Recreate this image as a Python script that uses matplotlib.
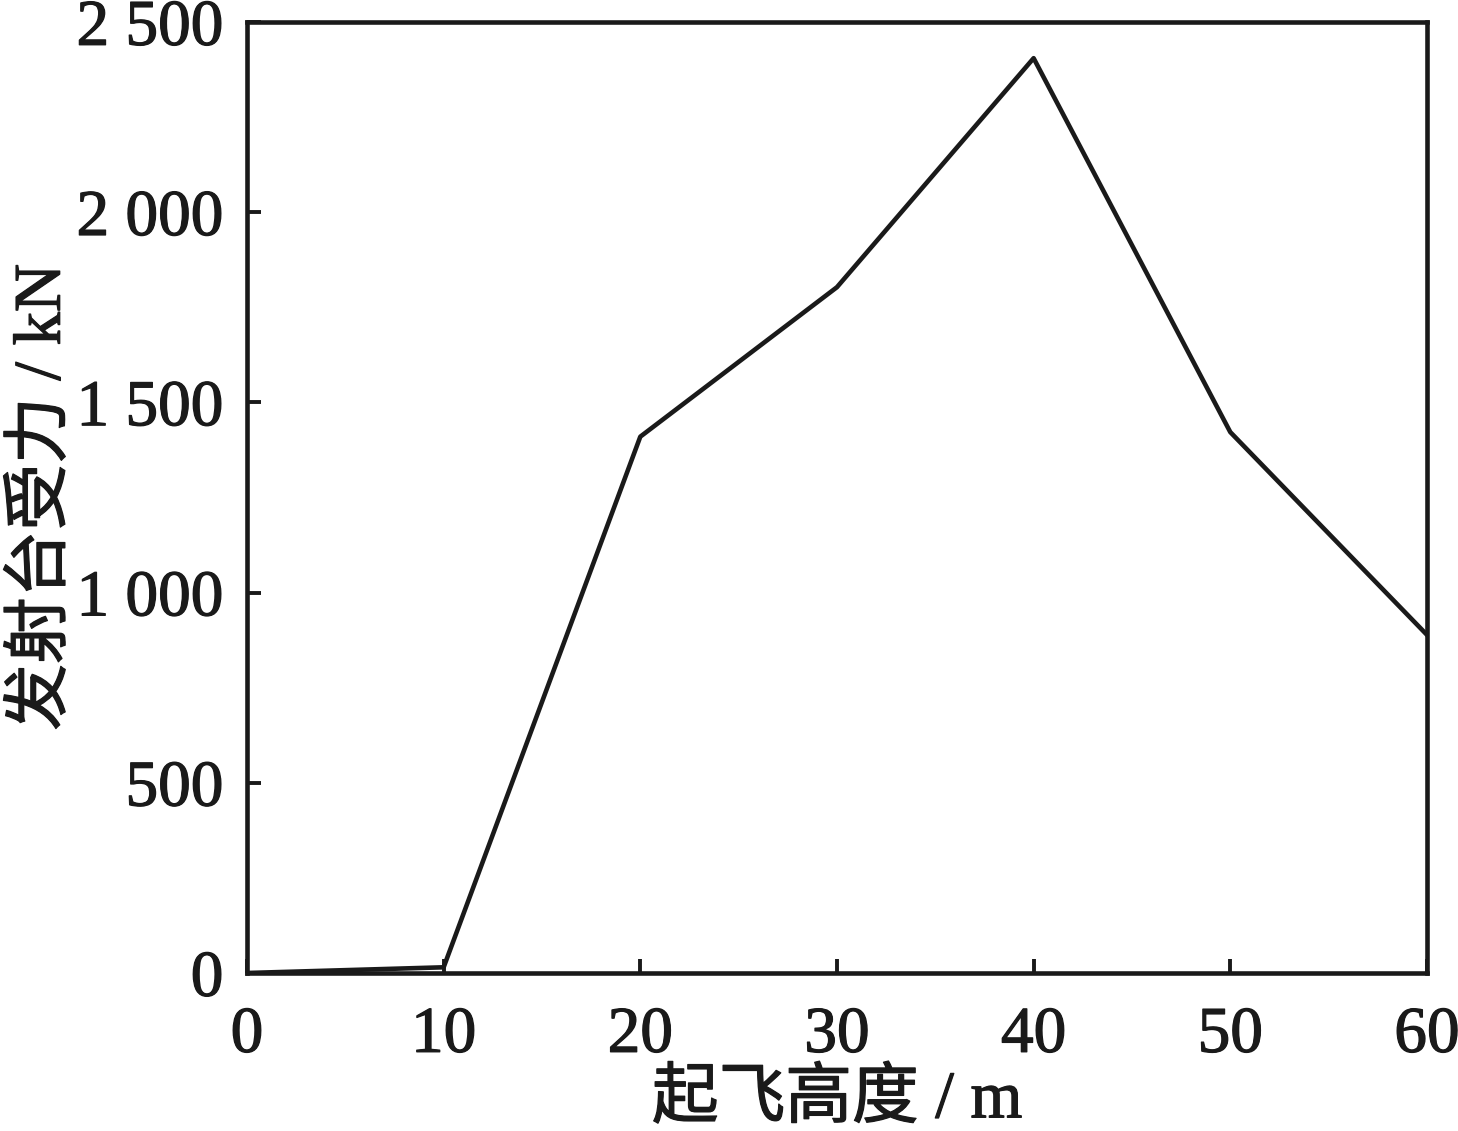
import numpy as np
import matplotlib.pyplot as plt
import matplotlib.patheffects as pe
from matplotlib.ticker import FuncFormatter

# 数据
height = [0, 10, 20, 30, 40, 50, 60]
force = [0, 15, 1410, 1803, 2405, 1422, 889]

plt.rcParams['font.family'] = ['Liberation Serif', 'Noto Sans CJK SC']
plt.rcParams['font.size'] = 47

fig = plt.figure(figsize=(14.58, 11.31), dpi=100)
ax = fig.add_axes([0.1694, 0.1397, 0.8093, 0.8408])

ax.plot(height, force, color='#1a1a1a', lw=3.3)

ax.set_xlim(0, 60)
ax.set_ylim(0, 2500)
ax.set_xticks([0, 10, 20, 30, 40, 50, 60])
ax.set_yticks([0, 500, 1000, 1500, 2000, 2500])

def thousands(v, pos):
    v = int(round(v))
    if v >= 1000:
        return f"{v // 1000} {v % 1000:03d}"
    return str(v)

ax.yaxis.set_major_formatter(FuncFormatter(thousands))
ax.tick_params(direction='in', length=10, width=2.8, color='#1a1a1a',
               labelcolor='#1a1a1a')
ax.tick_params(axis='x', pad=24)
ax.tick_params(axis='y', pad=17)
for s in ax.spines.values():
    s.set_linewidth(3.3)
    s.set_color('#1a1a1a')

# 字体稍微加粗一点
stroke = [pe.withStroke(linewidth=0.9, foreground='#1a1a1a')]
for t in ax.get_xticklabels() + ax.get_yticklabels():
    t.set_path_effects(stroke)

ax.set_xlabel('起飞高度 / m', color='#1a1a1a', labelpad=2, fontsize=48,
              path_effects=stroke)
ax.set_ylabel('发射台受力 / kN', color='#1a1a1a', labelpad=2, fontsize=48,
              path_effects=stroke)

plt.savefig('out.png', dpi=100)
